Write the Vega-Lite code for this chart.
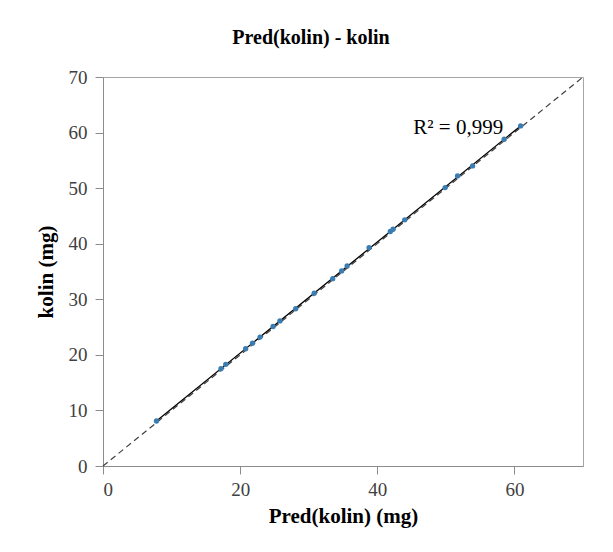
{
  "$schema": "https://vega.github.io/schema/vega-lite/v6.json",
  "autosize": "none",
  "width": 480,
  "height": 389,
  "padding": {"left": 103, "top": 77, "right": 30, "bottom": 86},
  "background": "white",
  "title": {"text": "Pred(kolin) - kolin", "font": "Liberation Serif", "fontSize": 20, "fontWeight": "bold", "color": "#000000", "offset": 20, "anchor": "middle", "dx": -32},
  "config": {
    "view": {"stroke": "#a6a6a6", "strokeWidth": 1},
    "axis": {
      "grid": false,
      "domainColor": "#8c8c8c",
      "tickColor": "#8c8c8c",
      "tickSize": 8,
      "labelFont": "Liberation Serif",
      "labelFontSize": 19,
      "labelColor": "#404040",
      "titleFont": "Liberation Serif",
      "titleFontSize": 21,
      "titleFontWeight": "bold",
      "titleColor": "#000000"
    }
  },
  "datasets": {
    "pts": [
      {"pred": 7.8, "kolin": 8.1},
      {"pred": 17.2, "kolin": 17.5},
      {"pred": 17.9, "kolin": 18.3},
      {"pred": 20.8, "kolin": 21.1},
      {"pred": 21.8, "kolin": 22.1},
      {"pred": 22.9, "kolin": 23.2},
      {"pred": 24.8, "kolin": 25.1},
      {"pred": 25.8, "kolin": 26.1},
      {"pred": 28.1, "kolin": 28.3},
      {"pred": 30.8, "kolin": 31.1},
      {"pred": 33.5, "kolin": 33.7},
      {"pred": 34.8, "kolin": 35.1},
      {"pred": 35.6, "kolin": 36.0},
      {"pred": 38.8, "kolin": 39.3},
      {"pred": 41.9, "kolin": 42.2},
      {"pred": 42.3, "kolin": 42.6},
      {"pred": 44.0, "kolin": 44.3},
      {"pred": 49.9, "kolin": 50.1},
      {"pred": 51.7, "kolin": 52.2},
      {"pred": 53.9, "kolin": 54.0},
      {"pred": 58.5, "kolin": 58.8},
      {"pred": 60.9, "kolin": 61.2}
    ],
    "diag": [
      {"pred": 0, "kolin": 0},
      {"pred": 70, "kolin": 70}
    ],
    "label": [
      {"pred": 51.8, "kolin": 60.8, "text": "R² = 0,999"}
    ]
  },
  "layer": [
    {
      "data": {"name": "diag"},
      "mark": {"type": "line", "color": "#404040", "strokeWidth": 1.2, "strokeDash": [6, 4]},
      "encoding": {
        "x": {"field": "pred", "type": "quantitative", "scale": {"domain": [0, 70], "nice": false}, "axis": {"values": [0, 20, 40, 60], "title": "Pred(kolin) (mg)", "titlePadding": 6, "labelPadding": 6}},
        "y": {"field": "kolin", "type": "quantitative", "scale": {"domain": [0, 70], "nice": false}, "axis": {"values": [0, 10, 20, 30, 40, 50, 60, 70], "title": "kolin (mg)", "titlePadding": 12, "labelPadding": 8}}
      }
    },
    {
      "data": {"name": "pts"},
      "transform": [{"regression": "kolin", "on": "pred"}],
      "mark": {"type": "line", "color": "#000000", "strokeWidth": 1.3},
      "encoding": {
        "x": {"field": "pred", "type": "quantitative"},
        "y": {"field": "kolin", "type": "quantitative"}
      }
    },
    {
      "data": {"name": "pts"},
      "mark": {"type": "circle", "color": "#3a7db3", "opacity": 1, "size": 28},
      "encoding": {
        "x": {"field": "pred", "type": "quantitative"},
        "y": {"field": "kolin", "type": "quantitative"}
      }
    },
    {
      "data": {"name": "label"},
      "mark": {"type": "text", "font": "Liberation Serif", "fontSize": 21, "color": "#000000", "align": "center", "baseline": "middle"},
      "encoding": {
        "x": {"field": "pred", "type": "quantitative"},
        "y": {"field": "kolin", "type": "quantitative"},
        "text": {"field": "text"}
      }
    }
  ]
}
